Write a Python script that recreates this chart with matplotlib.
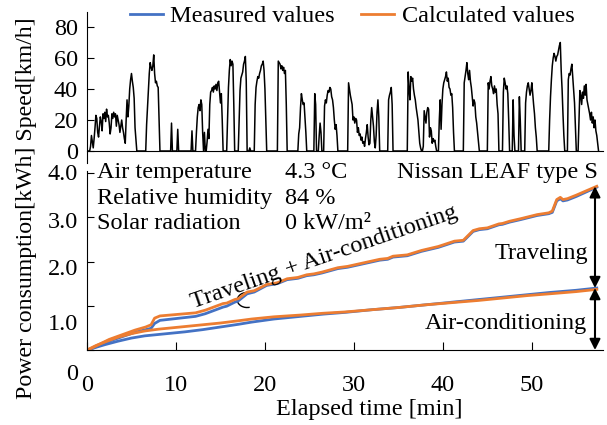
import matplotlib
matplotlib.use('Agg')
import matplotlib.pyplot as plt
from matplotlib.patches import Arc
from matplotlib.transforms import ScaledTranslation

plt.rcParams['font.family'] = ['Liberation Serif', 'DejaVu Serif']
plt.rcParams['font.size'] = 17.5

# vehicle speed trace [min], [km/h]
speed_time = [
    0.0, 0.3, 0.4, 0.5, 0.6, 0.7, 0.8, 0.9, 1.0, 1.1, 1.2, 1.3, 1.4, 1.5, 1.6, 1.7, 1.8, 1.9, 2.0, 2.1,
    2.2, 2.3, 2.4, 2.5, 2.6, 2.7, 2.8, 2.9, 3.0, 3.1, 3.2, 3.3, 3.4, 3.5, 3.6, 3.7, 3.8, 3.9, 4.0, 4.1,
    4.2, 4.3, 4.4, 4.5, 4.6, 4.7, 4.8, 4.9, 5.0, 5.1, 5.2, 5.3, 5.4, 5.6,
    6.6, 6.7, 6.8, 6.9, 7.0, 7.1, 7.2, 7.3, 7.4, 7.5, 7.6, 7.7, 7.8, 7.9, 8.0, 8.1, 8.2,
    9.4, 9.5, 9.6, 10.1, 10.2, 10.3, 11.7, 11.8, 11.9,
    12.2, 12.3, 12.4, 12.5, 12.6, 12.7, 12.8, 12.9, 13.0, 13.1, 13.2, 13.3,
    13.4, 13.5, 13.6, 13.7, 13.8, 13.9, 14.0, 14.1, 14.2, 14.3, 14.4, 14.5, 14.6, 14.7, 14.8, 14.9,
    15.0, 15.1, 15.2, 15.3,
    15.7, 15.8, 15.9, 16.0, 16.1, 16.2, 16.3, 16.4, 16.5, 16.6,
    17.0, 17.1, 17.2, 17.3, 17.4, 17.5, 17.6, 17.7, 17.8, 17.9, 18.0, 18.2, 18.3, 18.4,
    18.8, 18.9, 19.0, 19.1, 19.2, 19.3, 19.4, 19.5, 19.6, 19.7, 19.8, 19.9, 20.0, 20.1, 20.2,
    21.4, 21.5, 21.6, 21.7, 21.8, 21.9, 22.0, 22.1, 22.2, 22.3, 22.4, 22.5,
    23.7, 23.8, 23.9, 24.0, 24.1, 24.2, 24.3, 24.4, 24.5, 24.6, 24.7,
    25.5, 25.6, 25.7, 25.8, 26.0, 26.1, 26.2, 26.3, 26.4,
    26.6, 26.7, 26.8, 26.9, 27.0, 27.1, 27.2, 27.3, 27.4, 27.5, 27.6, 27.7, 27.8, 27.9, 28.0, 28.1, 28.2,
    29.3, 29.4, 29.5, 29.6, 29.7, 29.8, 29.9, 30.0, 30.1, 30.2, 30.3, 30.4, 30.5, 30.6, 30.7, 30.8,
    30.9, 31.0, 31.1, 31.2, 31.3, 31.4, 31.5, 31.6, 31.7, 31.8, 31.9, 32.0, 32.1, 32.2, 32.3, 32.4,
    32.5, 32.6, 32.7, 32.8, 32.9,
    33.8, 33.9, 34.0, 34.1, 34.2, 34.3, 34.4,
    36.0, 36.1, 36.2, 36.3, 36.4, 36.5, 36.6, 36.7, 36.8, 36.9, 37.0, 37.1, 37.2, 37.3, 37.4, 37.5, 37.6,
    37.7, 37.8, 37.9, 38.0, 38.1, 38.2, 38.3, 38.4, 38.5, 38.6, 38.7, 38.8, 38.9, 39.0, 39.1, 39.2, 39.3,
    39.5, 39.6, 39.7, 39.8, 39.9, 40.0, 40.1, 40.2, 40.3, 40.4, 40.5, 40.6, 40.7, 40.8, 40.9, 41.0,
    41.1, 41.2, 41.3,
    42.3, 42.4, 42.5, 42.6, 42.7, 42.8, 42.9, 43.0, 43.1, 43.2, 43.3, 43.4, 43.5, 43.6, 43.7, 43.8,
    43.9, 44.0, 44.1,
    45.0, 45.1, 45.2, 45.3, 45.4, 45.5, 45.6, 45.7, 45.8, 45.9, 46.0, 46.1, 46.2, 46.3,
    46.7, 46.8, 46.9, 47.0, 47.1, 47.2, 47.3, 47.4, 47.5,
    47.8, 47.9, 48.0, 48.1, 48.5, 48.6, 48.7, 48.8,
    49.2, 49.3, 49.4, 49.5, 49.6, 49.7, 49.8, 49.9, 50.0, 50.1, 50.2, 50.3, 50.4, 50.5, 50.6,
    51.9, 52.0, 52.1, 52.2, 52.3, 52.4, 52.5, 52.6, 52.7, 52.8, 52.9, 53.0, 53.1, 53.2, 53.3, 53.4,
    53.5, 53.6, 53.7,
    54.0, 54.1, 54.2, 54.3, 54.4, 54.5, 54.6, 54.7, 54.8, 54.9, 55.0,
    55.2, 55.3, 55.4, 55.5, 55.6, 55.7, 55.8, 55.9, 56.0, 56.1, 56.2, 56.3, 56.4, 56.5, 56.6, 56.7,
    56.8, 56.9, 57.0, 57.1, 57.2, 57.3, 57.4, 57.5,
]
speed_kmh = [
    0, 0, 3, 10, 6, 2, 8, 15, 23, 21, 12, 9, 16, 22, 19, 13, 24, 21, 25, 19,
    27, 22, 23, 18, 11, 15, 24, 21, 25, 22, 24, 16, 23, 20, 17, 12, 16, 20, 15, 12,
    8, 5, 20, 33, 22, 29, 40, 46, 50, 45, 41, 34, 15, 0,
    0, 17, 28, 38, 50, 57, 54, 52, 55, 62, 50, 44, 45, 42, 41, 20, 0,
    0, 18, 0, 0, 14, 0, 0, 13, 0,
    0, 12, 22, 28, 30, 26, 33, 30, 12, 0, 12, 0,
    0, 6, 14, 8, 30, 38, 39, 41, 38, 42, 40, 43, 39, 44, 45, 38,
    31, 37, 20, 0,
    0, 20, 41, 52, 59, 55, 58, 56, 30, 0,
    0, 20, 39, 47, 49, 51, 56, 58, 61, 45, 0, 0, 2, 0,
    0, 30, 41, 45, 48, 47, 50, 52, 55, 56, 58, 52, 40, 20, 0,
    0, 58, 57, 56, 53, 55, 52, 54, 50, 52, 30, 0,
    0, 11, 15, 28, 37, 33, 30, 31, 22, 12, 0,
    0, 37, 30, 0, 0, 10, 18, 12, 0,
    0, 29, 33, 31, 36, 39, 38, 41, 40, 35, 33, 28, 20, 14, 17, 10, 0,
    0, 44, 40, 36, 33, 30, 20, 22, 18, 21, 20, 12, 15, 10, 11, 7,
    9, 5, 6, 3, 8, 12, 17, 9, 4, 5, 20, 28, 22, 16, 6, 2,
    10, 25, 33, 22, 0,
    0, 33, 36, 38, 41, 30, 0,
    0, 51, 40, 33, 48, 45, 47, 40, 36, 33, 28, 24, 20, 12, 5, 2, 0,
    0, 3, 26, 22, 18, 25, 28, 27, 9, 15, 13, 5, 8, 6, 7, 3, 0,
    0, 20, 33, 14, 30, 40, 44, 46, 48, 51, 45, 47, 41, 40, 36, 37,
    28, 12, 0,
    0, 44, 48, 52, 57, 50, 46, 52, 45, 41, 35, 29, 33, 31, 22, 18,
    12, 6, 0,
    0, 44, 40, 45, 48, 42, 40, 37, 42, 38, 40, 30, 24, 0,
    0, 38, 47, 44, 40, 42, 37, 20, 0,
    0, 33, 10, 0, 0, 35, 20, 0,
    0, 31, 38, 42, 44, 40, 36, 39, 44, 37, 30, 24, 15, 9, 0,
    0, 20, 35, 46, 55, 60, 63, 61, 58, 61, 62, 65, 68, 70, 52, 40,
    24, 10, 0,
    0, 46, 50, 49, 53, 56, 48, 40, 31, 15, 0,
    0, 20, 39, 36, 30, 38, 34, 42, 36, 43, 33, 30, 27, 24, 20, 25,
    18, 22, 15, 20, 13, 10, 5, 0,
]

# cumulative power consumption, traveling + air-conditioning [kWh]
total_time = [0, 0.4, 2.5, 5.4, 6.6, 7.2, 7.6, 8.2, 12.2, 13.3,
              15.3, 15.7, 16.6, 17.0, 18.0, 18.8, 20.2, 21.4, 22.5, 23.7,
              24.7, 25.5, 26.4, 28.2, 29.3, 32.9, 33.8, 34.4, 36.0, 37.6,
              39.5, 41.3, 42.3, 43.0, 43.4, 44.1, 45.0, 46.3, 46.7, 47.5,
              48.8, 50.6, 51.9, 52.3, 52.8, 53.2, 53.5, 54.0, 55.0, 57.3]
total_calc = [0, 0.03, 0.24, 0.45, 0.52, 0.57, 0.72, 0.77, 0.84, 0.90,
              1.05, 1.06, 1.14, 1.16, 1.31, 1.34, 1.48, 1.52, 1.61, 1.64,
              1.70, 1.72, 1.76, 1.86, 1.89, 2.05, 2.07, 2.12, 2.15, 2.25,
              2.34, 2.46, 2.48, 2.62, 2.70, 2.74, 2.76, 2.85, 2.86, 2.91,
              2.97, 3.06, 3.10, 3.14, 3.40, 3.45, 3.40, 3.42, 3.50, 3.70]
total_meas = [0, 0.02, 0.20, 0.40, 0.46, 0.49, 0.60, 0.67, 0.76, 0.82,
              0.97, 0.99, 1.08, 1.11, 1.27, 1.31, 1.46, 1.50, 1.59, 1.62,
              1.68, 1.70, 1.74, 1.84, 1.87, 2.03, 2.05, 2.10, 2.13, 2.23,
              2.32, 2.44, 2.46, 2.60, 2.68, 2.72, 2.74, 2.83, 2.84, 2.89,
              2.95, 3.04, 3.08, 3.11, 3.37, 3.42, 3.37, 3.39, 3.47, 3.68]

# cumulative power consumption, air-conditioning only [kWh]
ac_time = [0, 1, 2, 3.5, 5, 6.5, 8, 9.5, 11, 13, 15, 17, 18.5, 21, 24, 26.5, 29, 32, 35, 38, 41,
           44, 47, 49.5, 52, 55, 57.3]
ac_calc = [0, 0.10, 0.18, 0.29, 0.37, 0.43, 0.47, 0.50, 0.53, 0.57, 0.61, 0.66, 0.70, 0.75, 0.79,
           0.83, 0.86, 0.91, 0.96, 1.02, 1.07, 1.12, 1.18, 1.23, 1.27, 1.32, 1.37]
ac_meas = [0, 0.06, 0.12, 0.20, 0.27, 0.32, 0.35, 0.38, 0.41, 0.46, 0.52, 0.58, 0.63, 0.70, 0.76,
           0.81, 0.85, 0.91, 0.96, 1.02, 1.08, 1.14, 1.20, 1.25, 1.30, 1.35, 1.40]

blue = '#4472C4'
orange = '#ED7D31'

fig = plt.figure(figsize=(6.07, 4.25), dpi=100)
W, H = 607, 425
ax1 = fig.add_axes([87 / W, 1 - 163.4 / H, 516 / W, 151.9 / H])
ax2 = fig.add_axes([87 / W, 1 - 350 / H, 516 / W, 179.2 / H])

# speed panel
ax1.plot(speed_time, speed_kmh, color='black', lw=1.1)
ax1.set_xlim(0, 58)
ax1.set_ylim(-8, 90)
ax1.set_yticks([0, 20, 40, 60, 80])
ax1.spines['top'].set_visible(False)
ax1.spines['right'].set_visible(False)
ax1.spines['bottom'].set_position(('data', 0))
ax1.tick_params(axis='x', bottom=False, labelbottom=False)
ax1.tick_params(axis='y', direction='in', length=5, pad=6.5, labelsize=17.5)

# power consumption panel
l_meas, = ax2.plot(total_time, total_meas, color=blue, lw=2.0, label='Measured values')
ax2.plot(ac_time, ac_meas, color=blue, lw=2.0)
l_calc, = ax2.plot(total_time, total_calc, color=orange, lw=2.0, label='Calculated values')
ax2.plot(ac_time, ac_calc, color=orange, lw=2.0)
ax2.set_xlim(0, 58)
ax2.set_ylim(0, 4.05)
ax2.set_xticks([0, 10, 20, 30, 40, 50])
ax2.set_yticks([0, 1, 2, 3, 4])
ax2.set_yticklabels(['0', '1.0', '2.0', '3.0', '4.0'])
ax2.spines['top'].set_visible(False)
ax2.spines['right'].set_visible(False)
ax2.tick_params(axis='x', direction='in', length=6, pad=18, labelsize=17.5)
ax2.tick_params(axis='y', direction='in', length=5, pad=6.5, labelsize=17.5)

fs = 17.5
ax2.text(1.1, 4.02, 'Air temperature', ha='left', va='center', fontsize=fs)
ax2.text(1.1, 3.43, 'Relative humidity', ha='left', va='center', fontsize=fs)
ax2.text(1.1, 2.87, 'Solar radiation', ha='left', va='center', fontsize=fs)
ax2.text(22.2, 4.02, '4.3 °C', ha='left', va='center', fontsize=fs)
ax2.text(22.2, 3.43, '84 %', ha='left', va='center', fontsize=fs)
ax2.text(22.2, 2.87, '0 kW/m²', ha='left', va='center', fontsize=fs)
ax2.text(57.4, 4.02, 'Nissan LEAF type S', ha='right', va='center', fontsize=fs)
ax2.text(26.7, 2.10, 'Traveling + Air-conditioning', ha='center', va='center',
         rotation=19, rotation_mode='anchor', fontsize=fs)
ax2.text(56.3, 2.17, 'Traveling', ha='right', va='center', fontsize=fs)
ax2.text(56.2, 0.59, 'Air-conditioning', ha='right', va='center', fontsize=fs)
ax2.add_patch(Arc((18.0, 1.13), 2.2, 0.34, theta1=40, theta2=330, color='black', lw=1.0))

arrow = dict(arrowstyle='<|-|>', color='black', lw=1.5, mutation_scale=16, shrinkA=0, shrinkB=0)
ax2.annotate('', xy=(57.1, total_calc[-1]), xytext=(57.1, ac_meas[-1]), arrowprops=arrow)
ax2.annotate('', xy=(57.1, ac_meas[-1]), xytext=(57.1, 0), arrowprops=arrow)

fig.legend(handles=[l_meas, l_calc], loc='center', bbox_to_anchor=(352 / W, 1 - 16 / H),
           ncol=2, frameon=False, fontsize=fs, handlelength=1.36, handletextpad=0.3,
           columnspacing=1.1, borderpad=0, borderaxespad=0)

fig.text(27 / W, 1 - 208 / H, 'Power consumption[kWh] Speed[km/h]', rotation=90,
         ha='center', va='center', fontsize=17.2)
fig.text(369 / W, 1 - 410 / H, 'Elapsed time [min]', ha='center', va='center', fontsize=fs)

# the tick labels of the power axis sit a little lower than their ticks
label_shift = [22, 16, 5, 3, -1]
for tick, dy in zip(ax2.yaxis.get_major_ticks(), label_shift):
    tick.label1.set_transform(tick.label1.get_transform() +
                              ScaledTranslation(0, -dy / 100, fig.dpi_scale_trans))

fig.savefig('out.png', dpi=100)
